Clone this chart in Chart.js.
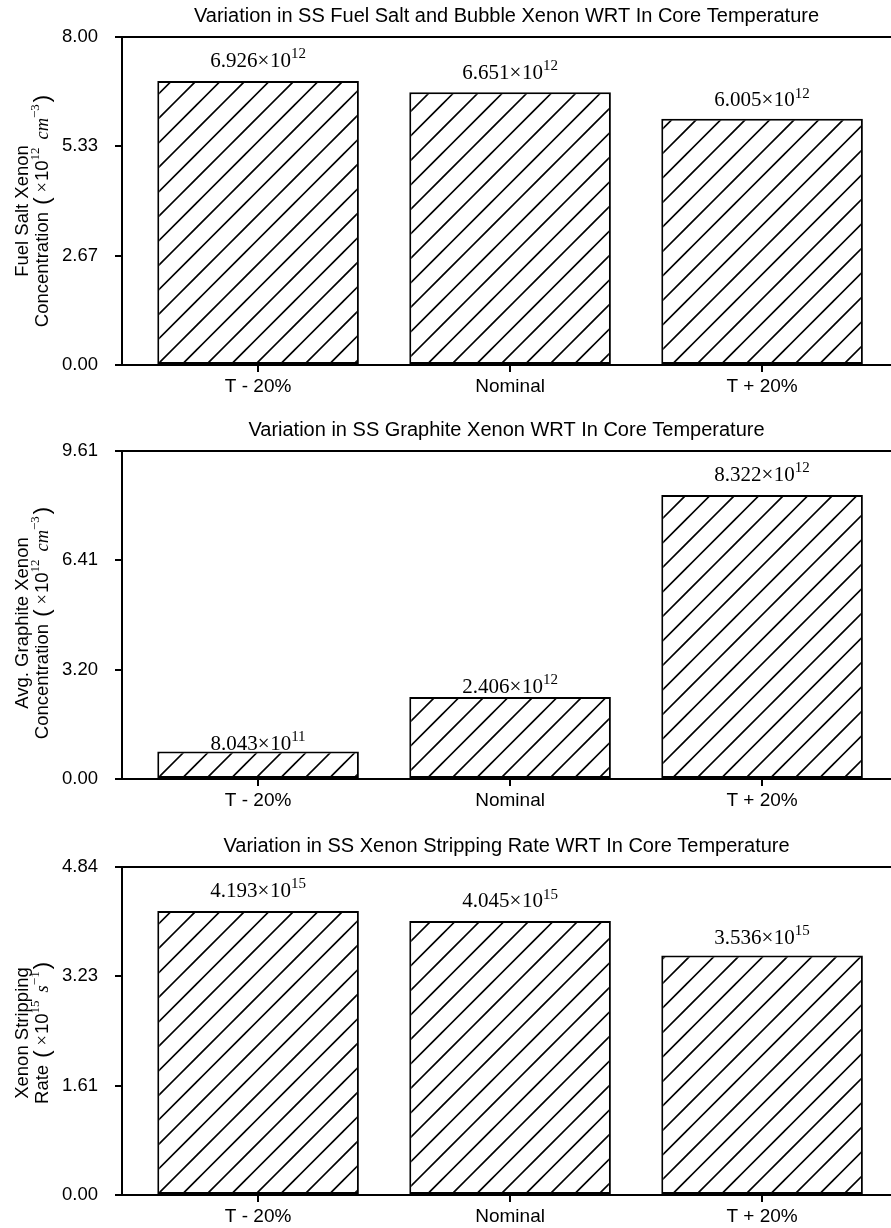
<!DOCTYPE html>
<html>
<head>
<meta charset="utf-8">
<script src="https://cdn.jsdelivr.net/npm/chart.js@4.4.1/dist/chart.umd.min.js"></script>
<style>
body { margin: 0; background: #fff; overflow: hidden; }
.panel { position: absolute; left: 0; width: 891px; }
</style>
</head>
<body>
<div class="panel" style="top:0"><canvas id="c1" width="891" height="414"></canvas></div>
<div class="panel" style="top:414px"><canvas id="c2" width="891" height="416"></canvas></div>
<div class="panel" style="top:830px"><canvas id="c3" width="891" height="398"></canvas></div>
<script>
const categories = ['T - 20%', 'Nominal', 'T + 20%'];

const fuelSaltXenon = [6.926, 6.651, 6.005];
const fuelSaltLabels = [['6.926', '12'], ['6.651', '12'], ['6.005', '12']];
const fuelSaltTicks = [0, 2.667, 5.333, 8.0];

const graphiteXenon = [0.8043, 2.406, 8.322];
const graphiteLabels = [['8.043', '11'], ['2.406', '12'], ['8.322', '12']];
const graphiteTicks = [0, 3.204, 6.408, 9.612];

const strippingRate = [4.193, 4.045, 3.536];
const strippingLabels = [['4.193', '15'], ['4.045', '15'], ['3.536', '15']];
const strippingTicks = [0, 1.614, 3.229, 4.843];

const SANS = '"Liberation Sans", Arial, sans-serif';
const SERIF = '"Liberation Serif", "Times New Roman", serif';

// diagonal "/" hatch on white, 24.5px apart
function makeHatch() {
    const c = document.createElement('canvas');
    c.width = 49; c.height = 49;
    const g = c.getContext('2d');
    g.fillStyle = '#fff';
    g.fillRect(0, 0, 49, 49);
    g.strokeStyle = '#000';
    g.lineWidth = 1.6;
    g.beginPath();
    [-41.5, -17, 7.5, 32, 56.5, 81, 105.5].forEach(k => {
        g.moveTo(k + 10, -10);
        g.lineTo(k - 70, 70);
    });
    g.stroke();
    return g.createPattern(c, 'repeat');
}

function partFont(p, size) {
    const s = p.sup ? Math.round(size * 0.7) : (p.big ? Math.round(size * 1.2) : size);
    return (p.italic ? 'italic ' : '') + s + 'px ' + (p.serif ? SERIF : SANS);
}

function drawRich(ctx, parts, x, y, size) {
    let w = 0;
    parts.forEach(p => {
        ctx.font = partFont(p, size);
        p.w = ctx.measureText(p.t).width + (p.gap || 0);
        w += p.w;
    });
    let cx = x - w / 2;
    ctx.textAlign = 'left';
    parts.forEach(p => {
        ctx.font = partFont(p, size);
        ctx.fillText(p.t, cx, p.sup ? y - size * 0.42 : y);
        cx += p.w;
    });
}

function makeChart(id, values, labels, ticks, title, yLine1, yLine2, yShift) {
    const canvas = document.getElementById(id);
    const hatch = makeHatch();

    const extras = {
        id: 'extras',
        afterDraw(chart) {
            const ctx = chart.ctx;
            const a = chart.chartArea;
            ctx.save();
            // top spine
            ctx.strokeStyle = '#000';
            ctx.lineWidth = 2;
            ctx.beginPath();
            ctx.moveTo(a.left - 1, a.top);
            ctx.lineTo(a.right, a.top);
            ctx.stroke();

            // value labels
            ctx.fillStyle = '#000';
            ctx.textBaseline = 'alphabetic';
            const meta = chart.getDatasetMeta(0);
            const ys = chart.scales.y;
            meta.data.forEach((bar, i) => {
                const y = ys.getPixelForValue(values[i] * 1.05);
                drawRich(ctx, [
                    { t: labels[i][0], serif: true },
                    { t: '×', serif: true, gap: 0.5 },
                    { t: '10', serif: true },
                    { t: labels[i][1], sup: true, serif: true }
                ], bar.x, y, 21);
            });

            // y axis title, two lines
            const mid = (a.top + a.bottom) / 2 + yShift;
            ctx.translate(0, mid);
            ctx.rotate(-Math.PI / 2);
            ctx.textBaseline = 'middle';
            drawRich(ctx, [{ t: yLine1 }], 0, 23, 18.5);
            drawRich(ctx, yLine2, 0, 43, 18.5);
            ctx.restore();
        }
    };

    return new Chart(canvas.getContext('2d'), {
        type: 'bar',
        data: {
            datasets: [{
                data: values.map((v, i) => ({ x: i, y: v })),
                backgroundColor: hatch,
                borderColor: '#000',
                borderWidth: 2,
                borderSkipped: false,
                barPercentage: 0.8,
                categoryPercentage: 1
            }]
        },
        options: {
            responsive: false,
            animation: false,
            events: [],
            layout: { padding: 0 },
            plugins: {
                legend: { display: false },
                tooltip: { enabled: false },
                title: {
                    display: true,
                    text: title,
                    fullSize: false,
                    color: '#000',
                    font: { family: SANS, size: 20, weight: 'normal' },
                    padding: { top: 4, bottom: 9 }
                }
            },
            scales: {
                x: {
                    type: 'linear',
                    min: -0.54,
                    max: 2.5116,
                    offset: false,
                    afterBuildTicks: s => { s.ticks = categories.map((c, i) => ({ value: i })); },
                    afterFit: s => { s.height = s.chart.height - 365; },
                    grid: { drawOnChartArea: false, drawTicks: true, tickLength: 7, color: '#000', lineWidth: 2, offset: false },
                    border: { display: true, color: '#000', width: 2 },
                    ticks: {
                        callback: v => categories[v],
                        color: '#000',
                        font: { family: SANS, size: 19 },
                        padding: 3,
                        maxRotation: 0,
                        autoSkip: false
                    }
                },
                y: {
                    min: 0,
                    max: ticks[ticks.length - 1],
                    afterBuildTicks: s => { s.ticks = ticks.map(v => ({ value: v })); },
                    afterFit: s => { s.width = 122; },
                    grid: { drawOnChartArea: false, drawTicks: true, tickLength: 7, color: '#000', lineWidth: 2 },
                    border: { display: true, color: '#000', width: 2 },
                    ticks: {
                        callback: v => v.toFixed(2),
                        color: '#000',
                        font: { family: SANS, size: 18.5 },
                        padding: 17
                    }
                }
            }
        },
        plugins: [extras]
    });
}

function unitParts(lead, exp, unit, unitExp) {
    return [
        { t: lead + ' ', gap: 2 },
        { t: '(', big: true, gap: 5 },
        { t: '×', serif: true, gap: 1 },
        { t: '10' },
        { t: exp, sup: true, serif: true, gap: 8 },
        { t: unit, italic: true, serif: true },
        { t: unitExp, sup: true, serif: true, gap: 2 },
        { t: ')', big: true }
    ];
}

makeChart('c1', fuelSaltXenon, fuelSaltLabels, fuelSaltTicks,
    'Variation in SS Fuel Salt and Bubble Xenon WRT In Core Temperature',
    'Fuel Salt Xenon',
    unitParts('Concentration', '12', 'cm', '−3'), 10);

makeChart('c2', graphiteXenon, graphiteLabels, graphiteTicks,
    'Variation in SS Graphite Xenon WRT In Core Temperature',
    'Avg. Graphite Xenon',
    unitParts('Concentration', '12', 'cm', '−3'), 8);

makeChart('c3', strippingRate, strippingLabels, strippingTicks,
    'Variation in SS Xenon Stripping Rate WRT In Core Temperature',
    'Xenon Stripping',
    unitParts('Rate', '15', 's', '−1'), 2);
</script>
</body>
</html>
